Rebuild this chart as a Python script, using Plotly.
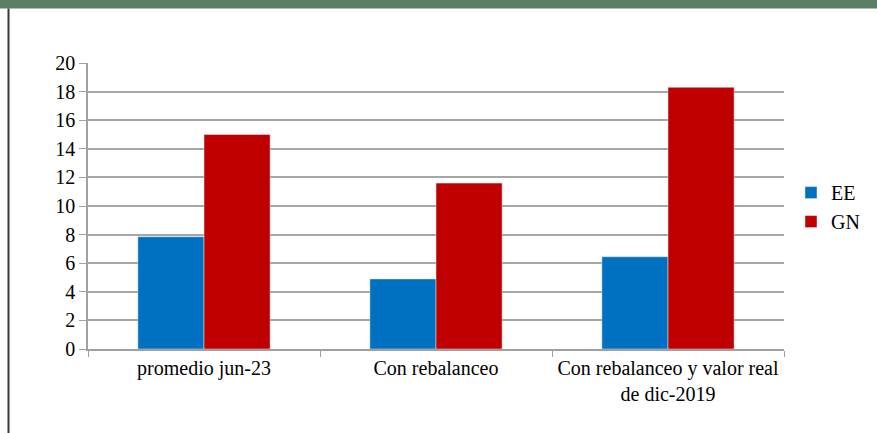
import plotly.graph_objects as go

categories = ["promedio jun-23", "Con rebalanceo", "Con rebalanceo y valor real<br>de dic-2019"]
ee_values = [7.85, 4.9, 6.45]
gn_values = [15.0, 11.6, 18.3]
y_ticks = [0, 2, 4, 6, 8, 10, 12, 14, 16, 18, 20]

W, H = 877, 433
L, R, T, B = 88, 784, 62.7, 349.3
PW, PH = R - L, B - T

def px_x(x):
    return (x - L) / PW

def px_y(y):
    return (B - y) / PH

FONT = "Liberation Serif, Times New Roman, serif"

fig = go.Figure()
fig.add_trace(go.Bar(x=categories, y=ee_values, name="EE", marker=dict(color="#0070c0")))
fig.add_trace(go.Bar(x=categories, y=gn_values, name="GN", marker=dict(color="#c00000")))

fig.update_layout(
    width=W, height=H, autosize=False,
    margin=dict(l=L, r=W - R, t=T, b=H - B, pad=0),
    paper_bgcolor="white", plot_bgcolor="white",
    barmode="group", bargap=0.43, bargroupgap=0,
    font=dict(family=FONT, size=20, color="#000000"),
    showlegend=True,
    legend=dict(x=px_x(791), xanchor="left", y=px_y(173), yanchor="top",
                font=dict(family=FONT, size=20, color="#000000"),
                bgcolor="rgba(0,0,0,0)", itemwidth=30, tracegroupgap=0),
    xaxis=dict(showline=True, linecolor="#a0a0a0", linewidth=1.5,
               ticks="outside", tickson="boundaries", ticklen=6, tickcolor="#a0a0a0",
               tickfont=dict(family=FONT, size=20, color="#000000"),
               showgrid=False),
    yaxis=dict(range=[0, 20], tickvals=y_ticks, showline=True, linecolor="#a0a0a0", linewidth=1.5,
               ticks="outside", ticklen=7, tickcolor="#a0a0a0",
               tickfont=dict(family=FONT, size=20, color="#000000"),
               showgrid=True, gridcolor="#a6a6a6", gridwidth=1.5, zeroline=False),
    shapes=[
        dict(type="rect", xref="paper", yref="paper",
             x0=px_x(-5), x1=px_x(W + 5), y0=px_y(8), y1=px_y(-5),
             fillcolor="#5a7f64", line=dict(width=0), layer="above"),
        dict(type="line", xref="paper", yref="paper",
             x0=px_x(8.5), x1=px_x(8.5), y0=px_y(8), y1=px_y(H + 5),
             line=dict(color="#3a3a3a", width=2), layer="above"),
    ],
)

fig.write_html("out.html", config={"displayModeBar": False},
               post_script="document.body.style.margin='0';document.body.style.overflow='hidden';")
